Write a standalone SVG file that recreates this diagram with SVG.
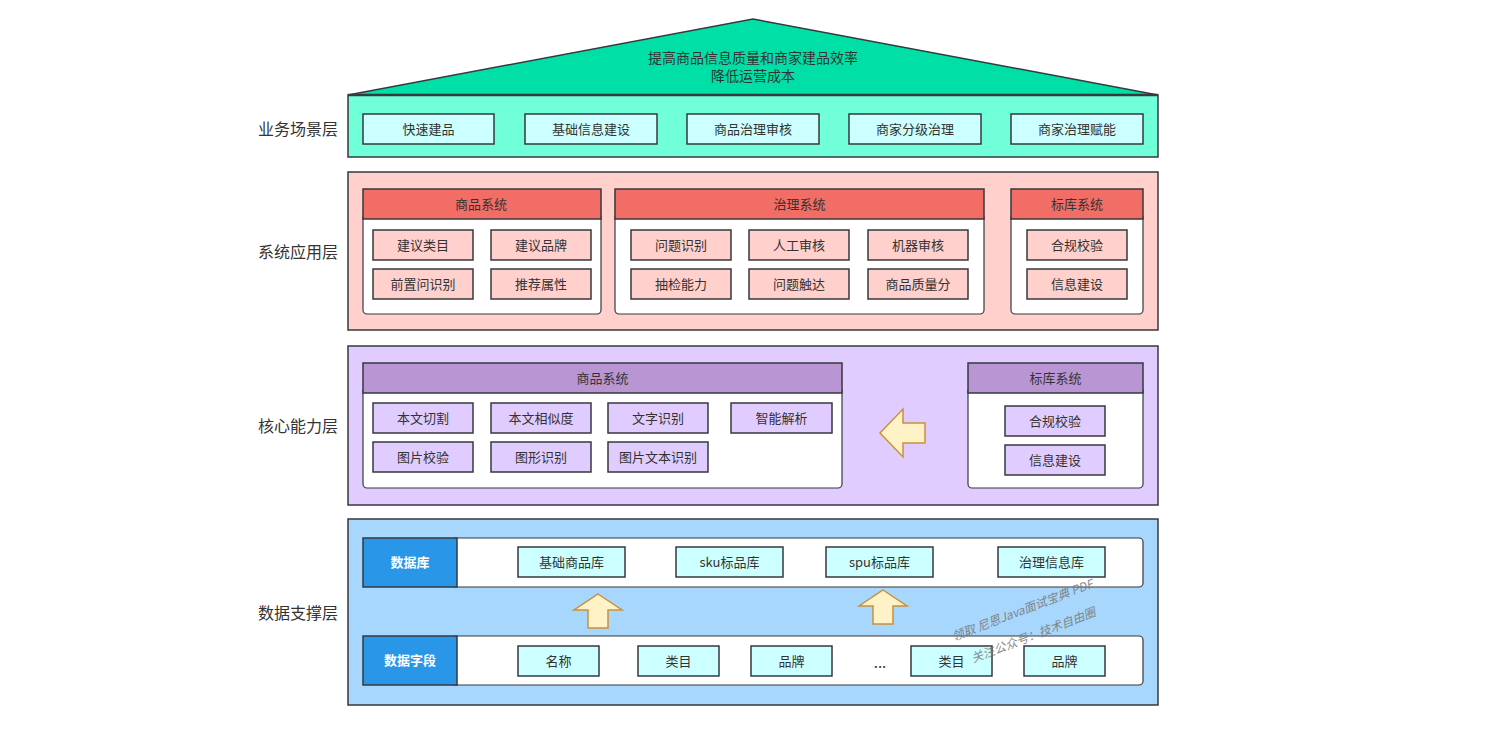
<svg xmlns="http://www.w3.org/2000/svg" width="1498" height="729" viewBox="0 0 1498 729">
<defs>
<style>
text{font-family:"Noto Sans CJK SC","Liberation Sans",sans-serif;fill:#333;font-size:13px;text-anchor:middle;dominant-baseline:central}
.side{font-size:16px}
.roof{font-size:14px}
.layer{stroke:#36393d;stroke-width:1.5}
.box{stroke:#36393d;stroke-width:1.5}
.body{fill:#fff;stroke:#36393d;stroke-width:1.2}
.cyan{fill:#CCFFFF}
.pink{fill:#FFD0CC}
.red{fill:#F26D66}
.lav{fill:#E1CCFF}
.pur{fill:#B995D4}
.blue{fill:#2A96E8}
.wl{fill:#fff;font-weight:bold}
.arrow{fill:#FFF2C6;stroke:#C9913E;stroke-width:1.5}
.wm{fill:#777;font-size:12px;font-style:italic;opacity:0.85}
</style>
</defs>
<rect width="1498" height="729" fill="#fff"/>

<g id="side-labels">
<text class="side" x="298" y="128">业务场景层</text>
<text class="side" x="298" y="251">系统应用层</text>
<text class="side" x="298" y="425">核心能力层</text>
<text class="side" x="298" y="612">数据支撑层</text>
</g>

<g id="roof">
<polygon points="348,95 753,19 1158,95" fill="#00DFA6" stroke="#36393d" stroke-width="1.5"/>
<text class="roof" x="753" y="56.5">提高商品信息质量和商家建品效率</text>
<text class="roof" x="753" y="75">降低运营成本</text>
</g>

<g id="layer-business">
<rect class="layer" x="348" y="95" width="810" height="62" fill="#70FFD8"/>
<line x1="348" y1="95" x2="1158" y2="95" stroke="#36393d" stroke-width="2.5"/>
<g id="b1"><rect class="box cyan" x="363" y="114" width="131" height="30"/><text x="428.5" y="128">快速建品</text></g>
<g id="b2"><rect class="box cyan" x="525" y="114" width="132" height="30"/><text x="591" y="128">基础信息建设</text></g>
<g id="b3"><rect class="box cyan" x="687" y="114" width="132" height="30"/><text x="753" y="128">商品治理审核</text></g>
<g id="b4"><rect class="box cyan" x="849" y="114" width="132" height="30"/><text x="915" y="128">商家分级治理</text></g>
<g id="b5"><rect class="box cyan" x="1011" y="114" width="132" height="30"/><text x="1077" y="128">商家治理赋能</text></g>
</g>

<g id="layer-app">
<rect class="layer" x="348" y="172" width="810" height="158" fill="#FFD0CC"/>
<g id="app-goods">
<rect class="body" x="363" y="213" width="238" height="101" rx="4"/>
<rect class="box red" x="363" y="189" width="238" height="30"/><text x="481" y="203">商品系统</text>
<rect class="box pink" x="373" y="230" width="100" height="30"/><text x="423" y="244">建议类目</text>
<rect class="box pink" x="491" y="230" width="100" height="30"/><text x="541" y="244">建议品牌</text>
<rect class="box pink" x="373" y="269" width="100" height="30"/><text x="423" y="283">前置问识别</text>
<rect class="box pink" x="491" y="269" width="100" height="30"/><text x="541" y="283">推荐属性</text>
</g>
<g id="app-gov">
<rect class="body" x="615" y="213" width="369" height="101" rx="4"/>
<rect class="box red" x="615" y="189" width="369" height="30"/><text x="799.5" y="203">治理系统</text>
<rect class="box pink" x="631" y="230" width="100" height="30"/><text x="681" y="244">问题识别</text>
<rect class="box pink" x="749" y="230" width="100" height="30"/><text x="799" y="244">人工审核</text>
<rect class="box pink" x="868" y="230" width="100" height="30"/><text x="918" y="244">机器审核</text>
<rect class="box pink" x="631" y="269" width="100" height="30"/><text x="681" y="283">抽检能力</text>
<rect class="box pink" x="749" y="269" width="100" height="30"/><text x="799" y="283">问题触达</text>
<rect class="box pink" x="868" y="269" width="100" height="30"/><text x="918" y="283">商品质量分</text>
</g>
<g id="app-std">
<rect class="body" x="1011" y="213" width="132" height="101" rx="4"/>
<rect class="box red" x="1011" y="189" width="132" height="30"/><text x="1077" y="203">标库系统</text>
<rect class="box pink" x="1027" y="230" width="100" height="30"/><text x="1077" y="244">合规校验</text>
<rect class="box pink" x="1027" y="269" width="100" height="30"/><text x="1077" y="283">信息建设</text>
</g>
</g>

<g id="layer-core">
<rect class="layer" x="348" y="346" width="810" height="159" fill="#E1CCFF"/>
<g id="core-goods">
<rect class="body" x="363" y="387" width="479" height="101" rx="4"/>
<rect class="box pur" x="363" y="363" width="479" height="30"/><text x="602.5" y="377">商品系统</text>
<rect class="box lav" x="373" y="403" width="100" height="30"/><text x="423" y="417">本文切割</text>
<rect class="box lav" x="491" y="403" width="100" height="30"/><text x="541" y="417">本文相似度</text>
<rect class="box lav" x="608" y="403" width="100" height="30"/><text x="658" y="417">文字识别</text>
<rect class="box lav" x="731" y="403" width="101" height="30"/><text x="781.5" y="417">智能解析</text>
<rect class="box lav" x="373" y="442" width="100" height="30"/><text x="423" y="456">图片校验</text>
<rect class="box lav" x="491" y="442" width="100" height="30"/><text x="541" y="456">图形识别</text>
<rect class="box lav" x="608" y="442" width="100" height="30"/><text x="658" y="456">图片文本识别</text>
</g>
<g id="core-std">
<rect class="body" x="968" y="387" width="175" height="101" rx="4"/>
<rect class="box pur" x="968" y="363" width="175" height="30"/><text x="1055.5" y="377">标库系统</text>
<rect class="box lav" x="1005" y="406" width="100" height="30"/><text x="1055" y="420">合规校验</text>
<rect class="box lav" x="1005" y="445" width="100" height="30"/><text x="1055" y="459">信息建设</text>
</g>
</g>

<g id="layer-data">
<rect class="layer" x="348" y="519" width="810" height="186" fill="#A8D7FD"/>
<g id="db">
<rect class="body" x="452" y="538" width="691" height="49" rx="4"/>
<rect class="box blue" x="363" y="538" width="94" height="49"/><text class="wl" x="410" y="561.5">数据库</text>
<rect class="box cyan" x="518" y="547" width="107" height="30"/><text x="571.5" y="561">基础商品库</text>
<rect class="box cyan" x="676" y="547" width="107" height="30"/><text x="729.5" y="561">sku标品库</text>
<rect class="box cyan" x="826" y="547" width="107" height="30"/><text x="879.5" y="561">spu标品库</text>
<rect class="box cyan" x="998" y="547" width="107" height="30"/><text x="1051.5" y="561">治理信息库</text>
</g>
<g id="fields">
<rect class="body" x="452" y="636" width="691" height="49" rx="4"/>
<rect class="box blue" x="363" y="636" width="94" height="49"/><text class="wl" x="410" y="659.5">数据字段</text>
<rect class="box cyan" x="518" y="646" width="81" height="30"/><text x="558.5" y="660">名称</text>
<rect class="box cyan" x="638" y="646" width="81" height="30"/><text x="678.5" y="660">类目</text>
<rect class="box cyan" x="751" y="646" width="81" height="30"/><text x="791.5" y="660">品牌</text>
<text x="880" y="661" style="font-size:15px">...</text>
<rect class="box cyan" x="911" y="646" width="81" height="30"/><text x="951.5" y="660">类目</text>
<rect class="box cyan" x="1024" y="646" width="81" height="30"/><text x="1064.5" y="660">品牌</text>
</g>
</g>

<g id="connectors">
<polygon class="arrow" points="880,433 903,409 903,423 925,423 925,443 903,443 903,457"/>
<polygon class="arrow" points="598,594 622,610 608,610 608,628 588,628 588,610 574,610"/>
<polygon class="arrow" points="883,590 907,606 893,606 893,624 873,624 873,606 859,606"/>
</g>

<g id="watermark">
<text class="wm" x="1022" y="609" transform="rotate(-21 1022 609)">领取 尼恩Java面试宝典 PDF</text>
<text class="wm" x="1033" y="634" transform="rotate(-21 1033 634)">关注公众号：技术自由圈</text>
</g>
</svg>
